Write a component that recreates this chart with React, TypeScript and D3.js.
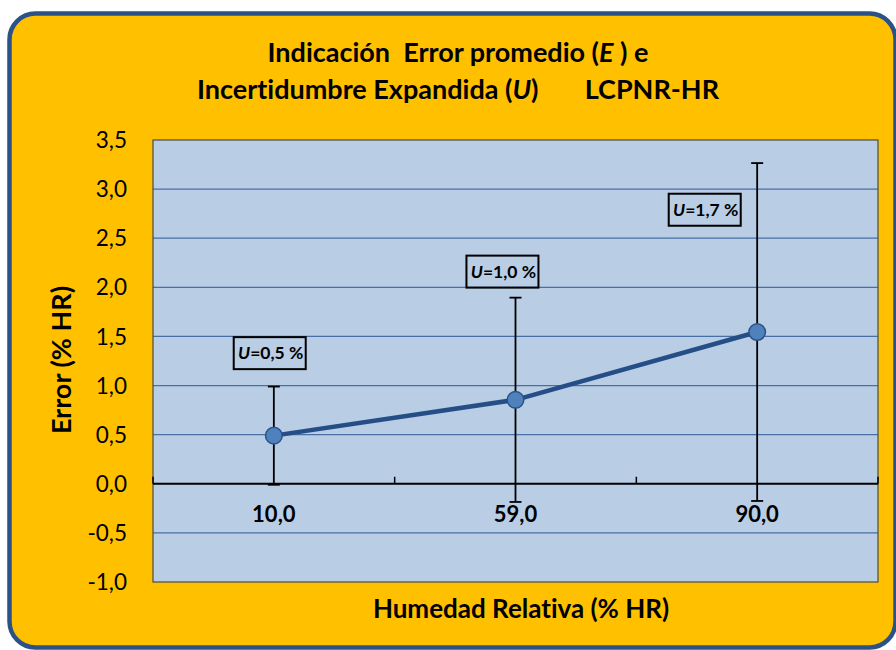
import React from "react";
import * as d3 from "d3";

const categories = ["10,0", "59,0", "90,0"];
const errorValues = [0.49, 0.855, 1.545];
const uncertainty = [0.5, 1.04, 1.72];
const uLabels = ["0,5", "1,0", "1,7"];
const labelValueY = [1.33, 2.16, 2.79];
const labelShiftBand = [-0.017, -0.054, -0.217];
const yTicks = [-1.0, -0.5, 0.0, 0.5, 1.0, 1.5, 2.0, 2.5, 3.0, 3.5];
const titleLine1 = ["Indicación  Error promedio (", "E", " ) e"];
const titleLine2 = ["Incertidumbre Expandida (", "U", ")"];
const titleLine2Right = "LCPNR-HR";
const yTitle = "Error (% HR)";
const xTitle = "Humedad Relativa (% HR)";

const W = 896;
const H = 650;
const M = { left: 153, right: 878, top: 140, bottom: 582 };
const FONT = "Lato, 'Open Sans', sans-serif";

const locale = d3.formatLocale({ decimal: ",", thousands: ".", grouping: [3], currency: ["", ""], minus: "-" });
const fmt = locale.format(".1f");

export default function App() {
  const y = d3.scaleLinear().domain([-1, 3.5]).range([M.bottom, M.top]);
  const x = d3.scaleBand().domain(categories).range([M.left, M.right]).padding(0);
  const cx = (c: string) => (x(c) as number) + x.bandwidth() / 2;
  const pts: [number, number][] = categories.map((c, i) => [cx(c), y(errorValues[i])]);
  const line = d3.line<[number, number]>()(pts) as string;
  const boundaries = [...categories.map((c) => x(c) as number), M.right];
  const y0 = y(0);
  const capW = 12;
  const boxW = 72;
  const boxH = 32;

  return (
    <div style={{ position: "fixed", left: 0, top: 0, width: W, height: H, background: "#fff" }}>
      <svg width={W} height={H} style={{ display: "block", fontVariantLigatures: "none", fontFeatureSettings: "'liga' 0, 'clig' 0" }} fontFamily={FONT}>
        <rect x={9.5} y={13.5} width={886} height={634} rx={26} ry={26} fill="#FFC000" stroke="#2A5286" strokeWidth={4.5} />

        {/* Title */}
        <text x={458} y={61.5} textAnchor="middle" fontSize={27} fontWeight="bold" fill="#000" style={{ whiteSpace: "pre" }}>
          <tspan>{titleLine1[0]}</tspan>
          <tspan fontStyle="italic">{titleLine1[1]}</tspan>
          <tspan>{titleLine1[2]}</tspan>
        </text>
        <text x={197} y={98.5} textAnchor="start" fontSize={27} fontWeight="bold" fill="#000">
          <tspan>{titleLine2[0]}</tspan>
          <tspan fontStyle="italic">{titleLine2[1]}</tspan>
          <tspan>{titleLine2[2]}</tspan>
        </text>
        <text x={719} y={98.5} textAnchor="end" fontSize={27} fontWeight="bold" fill="#000">
          {titleLine2Right}
        </text>

        {/* Plot area */}
        <rect x={M.left} y={M.top} width={M.right - M.left} height={M.bottom - M.top} fill="#B9CDE5" />
        {yTicks.filter((t) => t !== 0 && t !== 3.5 && t !== -1).map((t) => (
          <line key={t} x1={M.left} x2={M.right} y1={y(t)} y2={y(t)} stroke="#4A6FA5" strokeWidth={1.3} />
        ))}
        <rect x={M.left} y={M.top} width={M.right - M.left} height={M.bottom - M.top} fill="none" stroke="#4a4a4a" strokeWidth={1.2} />

        {/* Y tick labels */}
        {yTicks.map((t) => (
          <text key={t} x={127} y={y(t)} dy="0.36em" textAnchor="end" fontSize={22.5} fill="#000">
            {fmt(t)}
          </text>
        ))}
        <text transform={`translate(71, ${(M.top + M.bottom) / 2 - 1}) rotate(-90)`} textAnchor="middle" fontSize={27} fontWeight="bold" fill="#000">
          {yTitle}
        </text>

        {/* X axis */}
        <line x1={M.left} x2={M.right} y1={y0} y2={y0} stroke="#000" strokeWidth={2} />
        {boundaries.map((b, i) => (
          <line key={i} x1={b} x2={b} y1={y0} y2={y0 - 7} stroke="#000" strokeWidth={1.5} />
        ))}
        {categories.map((c) => (
          <text key={c} x={cx(c)} y={522} textAnchor="middle" fontSize={22} fontWeight="bold" fill="#000">
            {c}
          </text>
        ))}
        <text x={521} y={618} textAnchor="middle" fontSize={26} fontWeight="bold" fill="#000">
          {xTitle}
        </text>

        {/* Error bars */}
        {categories.map((c, i) => {
          const px = cx(c);
          const top = y(errorValues[i] + uncertainty[i]);
          const bot = y(errorValues[i] - uncertainty[i]);
          return (
            <g key={c} stroke="#000" strokeWidth={1.8}>
              <line x1={px} x2={px} y1={top} y2={bot} />
              <line x1={px - capW / 2} x2={px + capW / 2} y1={top} y2={top} />
              <line x1={px - capW / 2} x2={px + capW / 2} y1={bot} y2={bot} />
            </g>
          );
        })}

        {/* Line & markers */}
        <path d={line} fill="none" stroke="#254E86" strokeWidth={4.5} strokeLinejoin="round" />
        {pts.map((p, i) => (
          <circle key={i} cx={p[0]} cy={p[1]} r={8.3} fill="#4F81BD" stroke="#2A5286" strokeWidth={1.5} />
        ))}

        {/* U labels */}
        {categories.map((c, i) => {
          const bx = cx(c) + labelShiftBand[i] * x.bandwidth();
          const by = y(labelValueY[i]);
          return (
            <g key={c}>
              <rect x={bx - boxW / 2} y={by - boxH / 2} width={boxW} height={boxH} fill="none" stroke="#000" strokeWidth={2} />
              <text x={bx + 1} y={by} dy="0.36em" textAnchor="middle" fontSize={17.5} fontWeight="bold" fill="#000">
                <tspan fontStyle="italic">U</tspan>
                <tspan>{`=${uLabels[i]} %`}</tspan>
              </text>
            </g>
          );
        })}
      </svg>
    </div>
  );
}
